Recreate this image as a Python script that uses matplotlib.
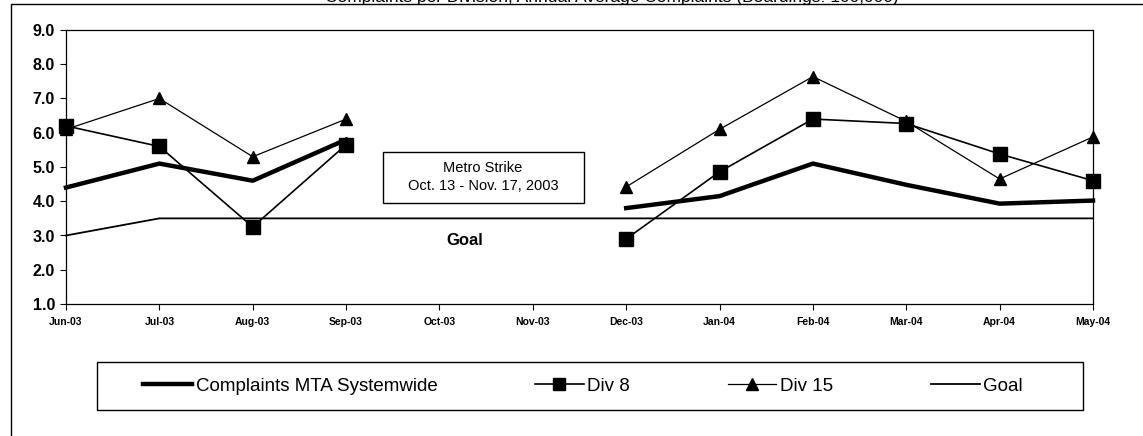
"""Complaints per 100,000 boardings: Div 8 / Div 15 vs systemwide and goal."""

import numpy as np
import matplotlib

matplotlib.use("Agg")
import matplotlib.pyplot as plt
from matplotlib.lines import Line2D
from matplotlib.patches import Rectangle

months = ["Jun-03", "Jul-03", "Aug-03", "Sep-03", "Oct-03", "Nov-03",
          "Dec-03", "Jan-04", "Feb-04", "Mar-04", "Apr-04", "May-04"]
nan = np.nan
systemwide = [4.4, 5.1, 4.6, 5.8, nan, nan, 3.8, 4.15, 5.1, 4.48, 3.93, 4.02]
div8 = [6.2, 5.6, 3.25, 5.65, nan, nan, 2.9, 4.86, 6.4, 6.27, 5.38, 4.6]
div15 = [6.1, 7.0, 5.3, 6.4, nan, nan, 4.42, 6.1, 7.64, 6.33, 4.65, 5.88]
goal = [3.0, 3.5, 3.5, 3.5, 3.5, 3.5, 3.5, 3.5, 3.5, 3.5, 3.5, 3.5]
y_ticks = [1.0, 2.0, 3.0, 4.0, 5.0, 6.0, 7.0, 8.0, 9.0]

W, H = 1143, 436
plt.rcParams["font.family"] = ["Liberation Sans", "DejaVu Sans"]
fig = plt.figure(figsize=(W / 100, H / 100), dpi=100)


def fx(px):
    return px / W


def fy(py):
    return 1 - py / H


# outer chart frame (only top and left edges are inside the picture)
fig.patches.append(Rectangle((fx(11), fy(470)), fx(1200), fy(4) - fy(470),
                             transform=fig.transFigure, fill=False,
                             edgecolor="black", linewidth=1.0))

# title is cut by the top edge in the source scan
fig.text(fx(612), fy(2), "Complaints per Division, Annual Average Complaints (Boardings: 100,000)",
         ha="center", va="baseline", fontsize=12.5)

ax = fig.add_axes([fx(66), fy(304), fx(1093) - fx(66), fy(30) - fy(304)])
x = np.arange(len(months))

ax.plot(x, goal, color="black", linewidth=1.3, clip_on=False)
ax.plot(x, systemwide, color="black", linewidth=3.2, clip_on=False)
ax.plot(x, div8, color="black", linewidth=1.2, marker="s", markersize=10,
        clip_on=False)
ax.plot(x, div15, color="black", linewidth=0.9, marker="^", markersize=9,
        clip_on=False)

ax.set_xlim(0, len(months) - 1)
ax.set_ylim(1, 9)
ax.set_yticks(y_ticks)
ax.set_yticklabels([f"{v:.1f}" for v in y_ticks], fontsize=11.5, fontweight="bold")
ax.set_xticks(x)
ax.set_xticklabels(months, fontsize=7.5, fontweight="bold")
ax.tick_params(axis="both", direction="out", length=4, width=0.8, color="black")
ax.tick_params(axis="x", pad=5)
ax.tick_params(axis="y", pad=4)
for s in ax.spines.values():
    s.set_linewidth(0.9)
    s.set_color("black")

# strike annotation box
fig.text(fx(483), fy(177), "Metro Strike\nOct. 13 - Nov. 17, 2003",
         fontsize=10.5, ha="center", va="center", linespacing=1.4)
fig.patches.append(Rectangle((fx(383), fy(203)), fx(584) - fx(383), fy(152) - fy(203),
                             transform=fig.transFigure, fill=False,
                             edgecolor="black", linewidth=1.0))
fig.text(fx(465), fy(240), "Goal", fontsize=12, fontweight="bold",
         ha="center", va="center")

# legend
fig.patches.append(Rectangle((fx(97), fy(410)), fx(1083) - fx(97), fy(362) - fy(410),
                             transform=fig.transFigure, fill=False,
                             edgecolor="black", linewidth=1.0))
handles = [
    Line2D([], [], color="black", linewidth=3.2),
    Line2D([], [], color="black", linewidth=1.2, marker="s", markersize=9),
    Line2D([], [], color="black", linewidth=0.9, marker="^", markersize=8),
    Line2D([], [], color="black", linewidth=1.3),
]
labels = ["Complaints MTA Systemwide", "Div 8", "Div 15", "Goal"]
fig.legend(handles, labels, loc="center", bbox_to_anchor=(fx(583), fy(386)),
           ncol=4, frameon=False, fontsize=13.5, handlelength=2.6,
           handletextpad=0.2, columnspacing=5.2, borderpad=0)

fig.savefig("out.png", dpi=100)
